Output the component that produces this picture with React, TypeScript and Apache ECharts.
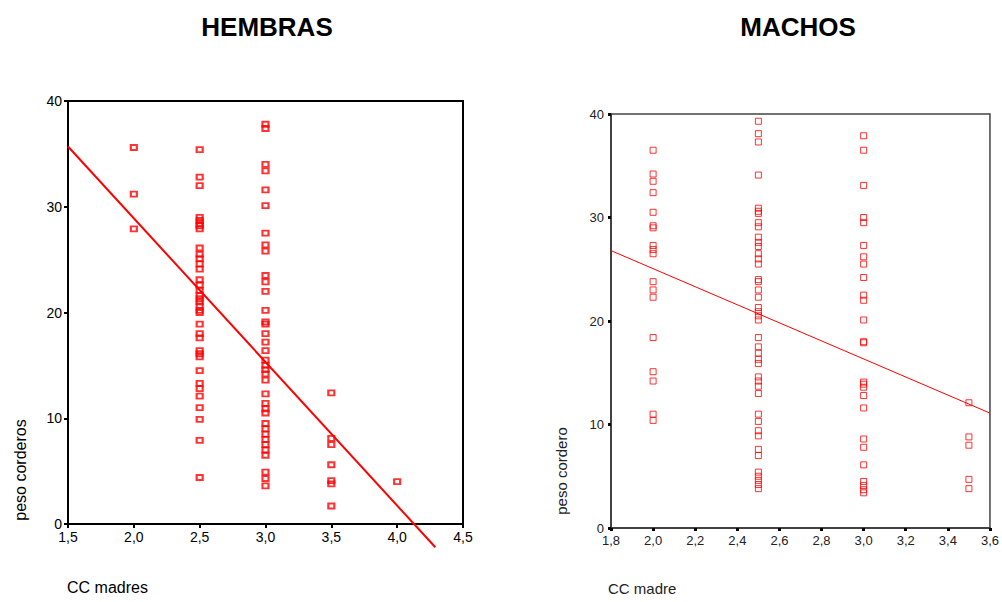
import React, { useEffect, useRef } from "react";
import * as echarts from "echarts";

// HEMBRAS (left) — peso corderos by CC madres
const hembras20 = [35.6, 31.2, 27.9];
const hembras25 = [35.4, 32.8, 32.0, 29.0, 28.7, 28.4, 28.2, 27.9, 26.1, 25.5, 25.1, 24.6, 24.1, 23.1, 22.6, 22.1, 21.6, 21.3, 21.0, 20.6, 20.2, 20.0, 18.9, 18.0, 17.6, 16.4, 16.1, 15.8, 14.5, 13.3, 12.8, 12.1, 11.0, 9.9, 7.9, 4.4];
const hembras30 = [37.8, 37.4, 34.0, 33.4, 31.6, 30.1, 27.5, 26.4, 25.8, 23.5, 22.9, 22.0, 20.2, 19.1, 18.9, 18.0, 17.2, 16.4, 15.5, 15.0, 14.6, 14.2, 13.6, 12.3, 11.4, 10.9, 10.5, 9.5, 9.0, 8.5, 8.0, 7.5, 7.0, 6.5, 4.9, 4.3, 3.6];
const hembras35 = [12.4, 8.1, 7.5, 5.6, 4.1, 3.8, 1.7];
const hembras40 = [4.0];
const hembrasFitX = [1.5, 4.29];
const hembrasFitY = [35.7, -2.2];

// MACHOS (right) — peso cordero by CC madre
const machos20 = [36.5, 34.2, 33.5, 32.4, 30.5, 29.2, 29.0, 27.3, 26.9, 26.5, 23.8, 23.0, 22.3, 18.4, 15.1, 14.2, 11.0, 10.4];
const machos25 = [39.3, 38.1, 37.3, 34.1, 30.9, 30.6, 30.4, 29.5, 29.1, 28.1, 27.6, 27.2, 26.5, 26.0, 25.5, 24.0, 23.8, 23.0, 22.3, 21.3, 20.9, 20.5, 20.1, 18.4, 17.5, 16.9, 16.3, 15.9, 14.6, 14.2, 13.7, 13.0, 11.0, 10.3, 9.4, 8.9, 7.6, 7.0, 5.4, 5.0, 4.6, 4.2, 3.8];
const machos30 = [37.9, 36.5, 33.1, 30.0, 29.5, 27.3, 26.2, 25.5, 24.2, 22.5, 22.0, 20.1, 18.0, 17.9, 14.1, 13.9, 13.6, 12.8, 11.6, 8.6, 7.8, 6.1, 4.5, 4.1, 3.7, 3.4];
const machos35 = [12.1, 8.8, 8.0, 4.7, 3.8];
const machosFitX = [1.8, 3.6];
const machosFitY = [26.8, 11.1];

const titles = ["HEMBRAS", "MACHOS"];
const yTitles = ["peso corderos", "peso cordero"];
const xTitles = ["CC madres", "CC madre"];

const pts = (x: number, ys: number[]) => ys.map((y) => [x, y]);
const fmt = (v: number) => v.toFixed(1).replace(".", ",");

export default function App() {
  const ref = useRef<HTMLDivElement>(null);
  useEffect(() => {
    if (!ref.current) return;
    const chart = echarts.init(ref.current, null, { renderer: "svg" });
    const hembras = [
      ...pts(2.0, hembras20),
      ...pts(2.5, hembras25),
      ...pts(3.0, hembras30),
      ...pts(3.5, hembras35),
      ...pts(4.0, hembras40),
    ];
    const machos = [
      ...pts(2.0, machos20),
      ...pts(2.5, machos25),
      ...pts(3.0, machos30),
      ...pts(3.5, machos35),
    ];
    const font = "Liberation Sans, Arial, sans-serif";
    chart.setOption({
      animation: false,
      backgroundColor: "#ffffff",
      grid: [
        { left: 68, top: 101, width: 395, height: 423, show: true, borderColor: "#000", borderWidth: 2, backgroundColor: "transparent" },
        { left: 611, top: 114, width: 382, height: 414, show: true, borderColor: "#444", borderWidth: 1.5, backgroundColor: "transparent" },
      ],
      xAxis: [
        {
          gridIndex: 0, type: "value", min: 1.5, max: 4.5, interval: 0.5,
          axisLine: { show: true, lineStyle: { color: "#000", width: 2 } },
          axisTick: { show: true, length: 4, lineStyle: { color: "#000", width: 2 } },
          splitLine: { show: false },
          axisLabel: { formatter: fmt, color: "#000", fontSize: 14, fontFamily: font, margin: 6 },
        },
        {
          gridIndex: 1, type: "value", min: 1.8, max: 3.6, interval: 0.2,
          axisLine: { show: true, lineStyle: { color: "#333", width: 1.5 } },
          axisTick: { show: true, length: 3, lineStyle: { color: "#000", width: 3 } },
          splitLine: { show: false },
          axisLabel: { formatter: fmt, color: "#222", fontSize: 13, fontFamily: font, margin: 6 },
        },
      ],
      yAxis: [
        {
          gridIndex: 0, type: "value", min: 0, max: 40, interval: 10,
          axisLine: { show: true, lineStyle: { color: "#000", width: 2 } },
          axisTick: { show: true, length: 4, lineStyle: { color: "#000", width: 2 } },
          splitLine: { show: false },
          axisLabel: { color: "#000", fontSize: 14, fontFamily: font, margin: 6 },
        },
        {
          gridIndex: 1, type: "value", min: 0, max: 40, interval: 10,
          axisLine: { show: true, lineStyle: { color: "#333", width: 1.5 } },
          axisTick: { show: true, length: 3, lineStyle: { color: "#000", width: 3 } },
          splitLine: { show: false },
          axisLabel: { color: "#222", fontSize: 13, fontFamily: font, margin: 7 },
        },
      ],
      series: [
        {
          type: "scatter", xAxisIndex: 0, yAxisIndex: 0, data: hembras,
          symbol: "rect", symbolSize: [6, 5],
          itemStyle: { color: "rgba(0,0,0,0)", borderColor: "#ff0000", borderWidth: 2 },
        },
        {
          type: "line", xAxisIndex: 0, yAxisIndex: 0, clip: false,
          data: hembrasFitX.map((x, i) => [x, hembrasFitY[i]]),
          showSymbol: false, symbol: "none",
          lineStyle: { color: "#ff0000", width: 2 },
        },
        {
          type: "scatter", xAxisIndex: 1, yAxisIndex: 1, data: machos,
          symbol: "rect", symbolSize: 6,
          itemStyle: { color: "rgba(0,0,0,0)", borderColor: "#ff0000", borderWidth: 1 },
        },
        {
          type: "line", xAxisIndex: 1, yAxisIndex: 1, clip: false,
          data: machosFitX.map((x, i) => [x, machosFitY[i]]),
          showSymbol: false, symbol: "none",
          lineStyle: { color: "#ff0000", width: 1 },
        },
      ],
      graphic: [
        { type: "text", x: 267, y: 27, style: { text: titles[0], font: `bold 26px ${font}`, fill: "#000", textAlign: "center", textVerticalAlign: "middle" } },
        { type: "text", x: 798, y: 27, style: { text: titles[1], font: `bold 26px ${font}`, fill: "#000", textAlign: "center", textVerticalAlign: "middle" } },
        { type: "text", x: 20, y: 470, rotation: Math.PI / 2, style: { text: yTitles[0], font: `16px ${font}`, fill: "#000", textAlign: "center", textVerticalAlign: "middle" } },
        { type: "text", x: 561, y: 471, rotation: Math.PI / 2, style: { text: yTitles[1], font: `15px ${font}`, fill: "#222", textAlign: "center", textVerticalAlign: "middle" } },
        { type: "text", x: 67, y: 587, style: { text: xTitles[0], font: `16px ${font}`, fill: "#000", textAlign: "left", textVerticalAlign: "middle" } },
        { type: "text", x: 608, y: 588, style: { text: xTitles[1], font: `15px ${font}`, fill: "#222", textAlign: "left", textVerticalAlign: "middle" } },
      ],
    });
    return () => chart.dispose();
  }, []);
  return (
    <div
      ref={ref}
      style={{ position: "fixed", left: 0, top: 0, width: 1002, height: 602, background: "#fff" }}
    />
  );
}
